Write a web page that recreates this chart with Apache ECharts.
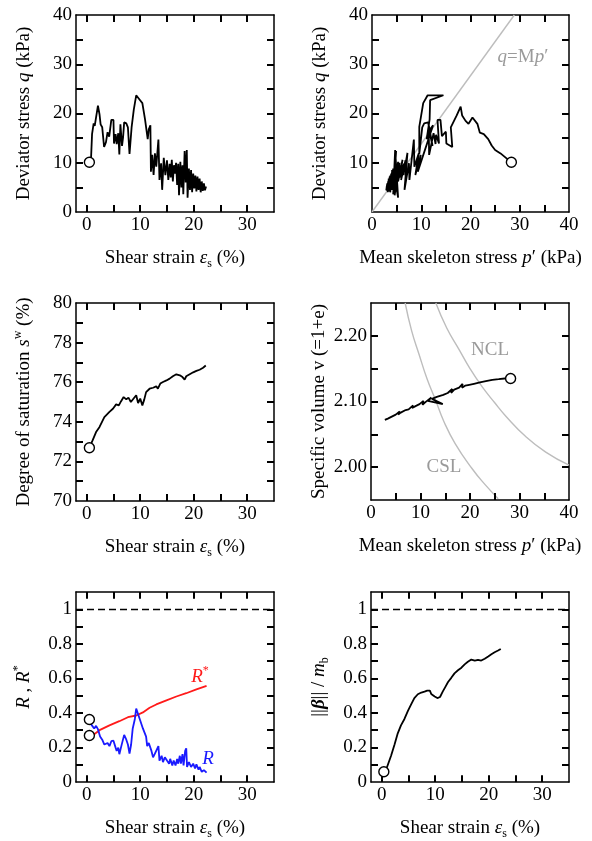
<!DOCTYPE html>
<html>
<head>
<meta charset="utf-8">
<script src="https://cdn.jsdelivr.net/npm/echarts@6/dist/echarts.min.js"></script>
<style>
  html, body { margin: 0; padding: 0; background: #fff; }
  #chart { width: 592px; height: 841px; }
</style>
</head>
<body>
<div id="chart"></div>
<script>
// ---- data ----
// panel 1: shear strain (%) vs deviator stress q (kPa)
var strainQ = [[0.5,10.1],[0.8,10.6],[1.0,15.8],[1.3,18.0],[1.5,17.5],[1.75,19.2],[2.1,21.6],[2.4,19.8],[2.6,17.8],[2.9,17.2],
  [3.25,13.2],[3.6,14.2],[3.9,16.2],[4.2,15.3],[4.6,18.7],[5.0,18.7],[5.1,13.9],[5.4,15.8],[5.6,13.8],[5.9,16.0],
  [6.1,11.7],[6.3,17.8],[6.6,13.4],[6.8,15.2],[7.0,18.2],[7.4,18.0],[7.7,17.2],[8.0,11.8],[8.4,17.3],[8.8,20.8],
  [9.25,23.7],[9.9,22.8],[10.4,22.1],[10.9,18.8],[11.1,18.5],[11.4,14.8],[11.6,16.8],[11.9,17.6],[12.0,8.2],[12.25,11.6],
  [12.5,7.5],[12.75,11.9],[13.0,9.2],[13.4,14.7],[13.6,6.5],[13.9,9.9],[14.1,4.5],[14.4,11.0],[14.7,7.5],[15.0,10.5],
  [15.25,6.5],[15.5,9.8],[15.7,7.0],[15.9,10.6],[16.1,6.2],[16.3,9.5],[16.5,7.8],[16.7,10.0],[16.9,5.5],[17.1,9.8],
  [17.25,3.4],[17.5,10.2],[17.7,5.0],[17.9,9.5],[18.05,3.6],[18.3,12.4],[18.5,6.0],[18.7,12.6],[18.85,2.9],[19.1,8.8],
  [19.3,4.5],[19.5,8.5],[19.7,4.0],[19.9,7.8],[20.1,4.8],[20.3,7.4],[20.5,4.2],[20.7,7.2],[20.9,4.5],[21.1,6.8],
  [21.3,4.0],[21.5,6.2],[21.7,4.3],[21.9,5.8],[22.1,4.4],[22.3,5.2]];

// panel 2: mean skeleton stress p' (kPa) vs q (kPa)
var stressQ = [[28.3,10.1],[27.2,11.0],[26.1,11.9],[25.0,12.6],[24.3,13.5],[23.6,14.8],[22.7,15.8],[21.9,16.1],[21.4,17.9],[20.4,19.2],
  [19.6,17.9],[19.0,18.5],[18.3,19.6],[18.0,21.4],[17.2,19.6],[16.0,17.2],[16.3,13.2],[15.1,13.9],[15.0,16.3],[14.2,15.4],
  [13.9,18.7],[13.3,18.7],[13.6,13.9],[13.0,15.7],[12.9,13.8],[12.5,16.0],[11.6,11.6],[11.5,17.8],[12.3,13.4],[11.9,15.2],
  [11.4,18.2],[10.6,18.0],[10.2,17.2],[9.6,11.8],[9.6,17.3],[10.4,22.1],[11.3,23.7],[14.5,23.7],[11.8,22.7],[11.7,18.8],
  [11.6,18.5],[11.1,14.8],[11.8,16.8],[12.4,17.6],[9.3,8.2],[9.9,11.6],[8.8,7.5],[9.5,11.9],[8.6,9.2],[8.5,14.7],
  [7.6,6.5],[7.5,9.9],[6.6,4.5],[7.2,12.0],[6.4,7.5],[6.8,10.5],[5.9,6.5],[6.5,9.8],[5.6,7.0],[6.2,10.6],
  [5.3,6.2],[5.9,9.5],[5.4,7.8],[5.6,10.0],[4.9,5.5],[5.5,9.8],[4.6,3.4],[5.3,10.2],[4.5,5.0],[5.0,9.5],
  [4.3,3.6],[4.9,12.4],[4.4,6.0],[4.7,12.6],[5.3,2.9],[4.3,8.8],[4.0,4.5],[4.1,8.5],[3.7,4.0],[3.9,7.8],
  [3.6,4.8],[3.7,7.4],[3.4,4.2],[3.6,7.2],[3.3,4.5],[3.4,6.8],[3.2,4.0],[3.3,6.2],[3.0,4.3],[3.1,5.8],
  [2.9,4.4],[3.0,5.2]];
var mLine = [[0,0],[28.9,40]];

// panel 3: shear strain vs degree of saturation (%)
var strainSw = [[0.5,72.69],[1.1,73.06],[1.75,73.48],[2.4,73.74],[3.3,74.24],[4.25,74.5],[4.9,74.66],[5.5,74.88],[6.0,74.83],[6.4,75.03],
  [6.9,75.25],[7.4,75.13],[7.8,75.22],[8.25,75.0],[8.6,74.97],[9.25,75.34],[9.6,74.95],[10.0,75.17],[10.4,74.83],[10.75,75.12],
  [11.1,75.5],[11.75,75.67],[12.4,75.72],[13.0,75.79],[13.3,75.67],[13.75,75.93],[14.25,76.01],[14.6,75.95],[14.9,76.09],[15.5,76.18],
  [15.8,76.1],[16.1,76.3],[16.75,76.4],[17.1,76.46],[17.4,76.35],[17.9,76.26],[18.3,76.13],[18.6,76.3],[18.9,76.22],[19.25,76.4],
  [19.9,76.5],[20.2,76.45],[20.5,76.57],[21.1,76.63],[21.4,76.6],[21.75,76.73],[22.25,76.84]];

// panel 4: p' vs specific volume
var stressV = [[28.2,2.135],[27.0,2.135],[25.8,2.134],[24.5,2.133],[23.2,2.131],[22.0,2.129],[20.8,2.127],[19.6,2.125],[19.0,2.124],[18.4,2.121],
  [18.5,2.127],[17.8,2.121],[16.8,2.118],[16.2,2.113],[16.4,2.119],[15.5,2.113],[14.6,2.110],[13.3,2.107],[12.3,2.104],[14.5,2.096],
  [11.5,2.101],[12.2,2.106],[11.0,2.099],[10.4,2.095],[10.6,2.101],[9.8,2.096],[9.0,2.093],[8.3,2.090],[8.5,2.094],[7.6,2.088],
  [7.0,2.087],[6.6,2.084],[6.8,2.089],[6.0,2.083],[5.5,2.080],[5.8,2.085],[5.0,2.080],[4.6,2.078],[4.9,2.083],[4.2,2.077],
  [3.8,2.076],[4.1,2.080],[3.4,2.074],[3.0,2.073],[2.8,2.072]];
var nclLine = [[13.1,2.25],[15.3,2.212],[17.8,2.179],[20.0,2.150],[22.4,2.123],[25.0,2.098],[27.2,2.078],[31.2,2.047],[35.3,2.023],[40,2.003]];
var cslLine = [[6.9,2.25],[8.2,2.208],[9.7,2.172],[11.3,2.135],[13.0,2.103],[14.7,2.070],[17.0,2.036],[20.4,1.998],[23.1,1.973],[25.7,1.952]];

// panel 5: shear strain vs R and R*
var strainR = [[0.5,0.362],[0.8,0.335],[1.0,0.328],[1.4,0.31],[1.75,0.325],[2.1,0.306],[2.5,0.263],[2.9,0.245],[3.3,0.217],[3.6,0.208],
  [3.9,0.226],[4.25,0.208],[4.6,0.236],[5.0,0.239],[5.4,0.199],[5.6,0.18],[5.9,0.199],[6.1,0.161],[6.4,0.199],[6.75,0.189],
  [7.0,0.273],[7.4,0.245],[7.7,0.217],[8.0,0.165],[8.3,0.217],[8.6,0.31],[9.0,0.365],[9.25,0.425],[9.6,0.393],[10.0,0.356],
  [10.5,0.31],[11.1,0.263],[11.3,0.208],[11.6,0.226],[11.9,0.236],[12.1,0.18],[12.4,0.143],[12.7,0.161],[13.0,0.152],[13.4,0.208],
  [13.6,0.124],[14.0,0.152],[14.25,0.115],[14.6,0.143],[15.0,0.124],[15.4,0.106],[15.6,0.134],[16.0,0.096],[16.25,0.124],[16.6,0.096],
  [16.9,0.134],[17.1,0.106],[17.4,0.152],[17.6,0.106],[17.9,0.161],[18.1,0.096],[18.4,0.18],[18.6,0.195],[18.75,0.087],[19.1,0.115],
  [19.5,0.087],[19.9,0.106],[20.25,0.078],[20.5,0.102],[20.9,0.072],[21.1,0.087],[21.5,0.059],[21.9,0.069],[22.4,0.054]];
var strainRstar = [[0.5,0.269],[1.4,0.276],[2.4,0.300],[4.25,0.328],[6.1,0.352],[7.7,0.375],[9.25,0.385],[10.5,0.403],[11.75,0.430],[13.0,0.449],
  [14.9,0.473],[16.75,0.495],[18.6,0.514],[20.5,0.536],[22.4,0.557]];
var unitLevel = 1;

// panel 6: shear strain vs ||beta|| / m_b
var strainBeta = [[0.4,0.059],[1.0,0.087],[1.75,0.152],[2.4,0.217],[3.0,0.282],[3.6,0.328],[4.25,0.365],[4.9,0.412],[5.5,0.449],[6.1,0.486],
  [6.75,0.508],[7.4,0.518],[8.0,0.523],[8.5,0.529],[9.0,0.529],[9.25,0.510],[9.9,0.495],[10.4,0.486],[10.9,0.492],[11.4,0.523],
  [11.9,0.551],[12.4,0.579],[13.0,0.603],[13.6,0.629],[14.25,0.647],[14.9,0.662],[15.5,0.681],[16.1,0.696],[16.75,0.709],[17.4,0.703],
  [18.0,0.707],[18.6,0.703],[19.25,0.714],[19.9,0.727],[20.5,0.740],[21.1,0.751],[21.75,0.761],[22.25,0.770]];

// tick positions and labels
var strainTicks = [0,5,10,15,20,25,30];
var strainLabels = [0,10,20,30];
var stressTicks = [5,10,15,20,25,30,35];
var stressLabels = [0,10,20,30,40];
var qTicks = [5,10,15,20,25,30,35];
var qLabels = [0,10,20,30,40];
var qLabelsNoZero = [10,20,30,40];
var swTicks = [71,72,73,74,75,76,77,78,79];
var swLabels = [70,72,74,76,78,80];
var vTicks = [2.00,2.05,2.10,2.15,2.20];
var vLabels = [2.00,2.10,2.20];
var ratioTicks = [0.1,0.2,0.3,0.4,0.5,0.6,0.7,0.8,0.9,1.0];
var ratioLabels = [0,0.2,0.4,0.6,0.8,1];

var FONT = 'Liberation Serif';
var chart = echarts.init(document.getElementById('chart'));

var grids = [
  {left: 76, top: 15, width: 198, height: 197},
  {left: 372, top: 15, width: 197, height: 197},
  {left: 76, top: 303, width: 198, height: 198},
  {left: 371, top: 303, width: 198, height: 197},
  {left: 76, top: 592, width: 198, height: 197},
  {left: 371, top: 592, width: 198, height: 197}
];

var rich = {
  n: {fontFamily: FONT, fontSize: 19, color: '#000', lineHeight: 24, verticalAlign: 'middle'},
  i: {fontFamily: FONT, fontSize: 19, fontStyle: 'italic', color: '#000', lineHeight: 24, verticalAlign: 'middle'},
  b: {fontFamily: FONT, fontSize: 19, fontStyle: 'italic', fontWeight: 'bold', color: '#000', lineHeight: 24, verticalAlign: 'middle'},
  sub: {fontFamily: FONT, fontSize: 12, color: '#000', lineHeight: 12, verticalAlign: 'bottom'},
  sup: {fontFamily: FONT, fontSize: 12, color: '#000', lineHeight: 12, verticalAlign: 'top'}
};

var shearName = '{n|Shear strain }{i|ε}{sub|s}{n| (%)}';
var stressName = '{n|Mean skeleton stress }{i|p}{n|′ (kPa)}';
var qName = '{n|Deviator stress }{i|q}{n| (kPa)}';
var swName = '{n|Degree of saturation }{i|s}{sup|w}{n| (%)}';
var vName = '{n|Specific volume v (=1+e)}';
var rName = '{i|R}{n| , }{i|R}{sup|*}';
var bName = '{n|||}{b|β}{n||| / }{i|m}{sub|b}';

// show a label only where the value is in the list
function pick(list, digits) {
  return function (v) {
    for (var i = 0; i < list.length; i++) {
      if (Math.abs(list[i] - v) < 1e-6) {
        return digits ? v.toFixed(digits) : String(+v.toFixed(2));
      }
    }
    return '';
  };
}

function mkAxis(g, pos, min, max, interval, fmt, name, gap) {
  var main = pos === 'bottom' || pos === 'left';
  var ax = {
    type: 'value', gridIndex: g, position: pos, min: min, max: max,
    axisLine: {show: true, onZero: false, lineStyle: {color: '#000', width: 1.5}},
    axisTick: {show: false},
    axisLabel: {show: main, formatter: fmt, fontFamily: FONT, fontSize: 19, color: '#000', margin: 4},
    splitLine: {show: false},
    name: main ? name : '',
    nameLocation: 'middle',
    nameGap: gap,
    nameRotate: pos === 'left' ? 90 : 0,
    nameTextStyle: {fontFamily: FONT, fontSize: 19, color: '#000', rich: rich}
  };
  if (interval) ax.interval = interval;
  else ax.splitNumber = 7;   // strain axis: nice step of 5 from -2
  return ax;
}

var xSpec = [
  [-2, 35, null, pick(strainLabels), shearName, strainTicks],
  [0, 40, 5, pick(stressLabels), stressName, stressTicks],
  [-2, 35, null, pick(strainLabels), shearName, strainTicks],
  [0, 40, 5, pick(stressLabels), stressName, stressTicks],
  [-2, 35, null, pick(strainLabels), shearName, strainTicks],
  [-2, 35, null, pick(strainLabels), shearName, strainTicks]
];
var ySpec = [
  [0, 40, 5, pick(qLabels), qName, qTicks],
  [0, 40, 5, pick(qLabelsNoZero), qName, qTicks],
  [70, 80, 1, pick(swLabels), swName, swTicks],
  [1.95, 2.25, 0.05, pick(vLabels, 2), vName, vTicks],
  [0, 1.1, 0.1, pick(ratioLabels), rName, ratioTicks],
  [0, 1.1, 0.1, pick(ratioLabels), bName, ratioTicks]
];

var xAxes = [], yAxes = [];
for (var g = 0; g < 6; g++) {
  var xs = xSpec[g], ys = ySpec[g];
  xAxes.push(mkAxis(g, 'bottom', xs[0], xs[1], xs[2], xs[3], xs[4], 34));
  xAxes.push(mkAxis(g, 'top', xs[0], xs[1], xs[2], xs[3], '', 0));
  yAxes.push(mkAxis(g, 'left', ys[0], ys[1], ys[2], ys[3], ys[4], 40));
  yAxes.push(mkAxis(g, 'right', ys[0], ys[1], ys[2], ys[3], '', 0));
}

// inward ticks on all four sides: short segments drawn with a lines series,
// one end on the frame (data coords), length fixed in data units of ~7 px
var TICK_PX = 7;
function tickSeries(g) {
  var xs = xSpec[g], ys = ySpec[g], gr = grids[g];
  var dy = (ys[1] - ys[0]) * TICK_PX / gr.height;
  var dx = (xs[1] - xs[0]) * TICK_PX / gr.width;
  var segs = [];
  xs[5].forEach(function (v) {
    segs.push({coords: [[v, ys[0]], [v, ys[0] + dy]]});
    segs.push({coords: [[v, ys[1]], [v, ys[1] - dy]]});
  });
  ys[5].forEach(function (v) {
    segs.push({coords: [[xs[0], v], [xs[0] + dx, v]]});
    segs.push({coords: [[xs[1], v], [xs[1] - dx, v]]});
  });
  return {
    type: 'lines', coordinateSystem: 'cartesian2d', xAxisIndex: 2 * g, yAxisIndex: 2 * g,
    data: segs, silent: true, z: 3, symbol: 'none',
    lineStyle: {color: '#000', width: 2, opacity: 1}
  };
}

function lineS(g, data, color, width, extra) {
  var s = {
    type: 'line', xAxisIndex: 2 * g, yAxisIndex: 2 * g, data: data,
    symbol: 'none', showSymbol: false, silent: true,
    lineStyle: {color: color, width: width}, z: 2
  };
  for (var k in extra) s[k] = extra[k];
  return s;
}
function startCircle(g, pt) {
  return {
    type: 'scatter', xAxisIndex: 2 * g, yAxisIndex: 2 * g, data: [pt],
    symbol: 'circle', symbolSize: 10, silent: true, z: 5,
    itemStyle: {color: '#fff', borderColor: '#000', borderWidth: 1.4, opacity: 1}
  };
}
var unitMark = {
  symbol: 'none', silent: true, label: {show: false},
  lineStyle: {color: '#000', width: 1.4, type: [7, 4]},
  data: [{yAxis: unitLevel}]
};

var GREY = '#bdbdbd';
var W = 1.8;
var series = [
  lineS(0, strainQ, '#000', W),
  startCircle(0, strainQ[0]),
  lineS(1, mLine, GREY, 1.4),
  lineS(1, stressQ, '#000', W),
  startCircle(1, stressQ[0]),
  lineS(2, strainSw, '#000', W),
  startCircle(2, strainSw[0]),
  lineS(3, nclLine, GREY, 1.4, {smooth: true}),
  lineS(3, cslLine, GREY, 1.4, {smooth: true}),
  lineS(3, stressV, '#000', W),
  startCircle(3, stressV[0]),
  lineS(4, strainRstar, '#ff1a1a', W, {markLine: unitMark}),
  lineS(4, strainR, '#1a1aff', W),
  startCircle(4, strainR[0]),
  startCircle(4, strainRstar[0]),
  lineS(5, strainBeta, '#000', W, {markLine: unitMark}),
  startCircle(5, strainBeta[0])
];
for (var t = 0; t < 6; t++) series.push(tickSeries(t));

function note(x, y, text, color) {
  var r = {};
  for (var k in rich) {
    r[k] = {};
    for (var j in rich[k]) r[k][j] = rich[k][j];
    r[k].fill = color;
  }
  return {
    type: 'text', x: x, y: y, silent: true, z: 10,
    style: {text: text, rich: r, fill: color, fontFamily: FONT, fontSize: 19, align: 'center', verticalAlign: 'middle'}
  };
}

chart.setOption({
  animation: false,
  backgroundColor: '#fff',
  grid: grids,
  xAxis: xAxes,
  yAxis: yAxes,
  series: series,
  graphic: [
    note(523, 57, '{i|q}{n|=M}{i|p}{n|′}', '#9a9a9a'),
    note(490, 350, '{n|NCL}', '#9a9a9a'),
    note(444, 467, '{n|CSL}', '#9a9a9a'),
    note(200, 677, '{i|R}{sup|*}', '#ff1a1a'),
    note(208, 759, '{i|R}', '#1a1aff')
  ]
});
</script>
</body>
</html>
